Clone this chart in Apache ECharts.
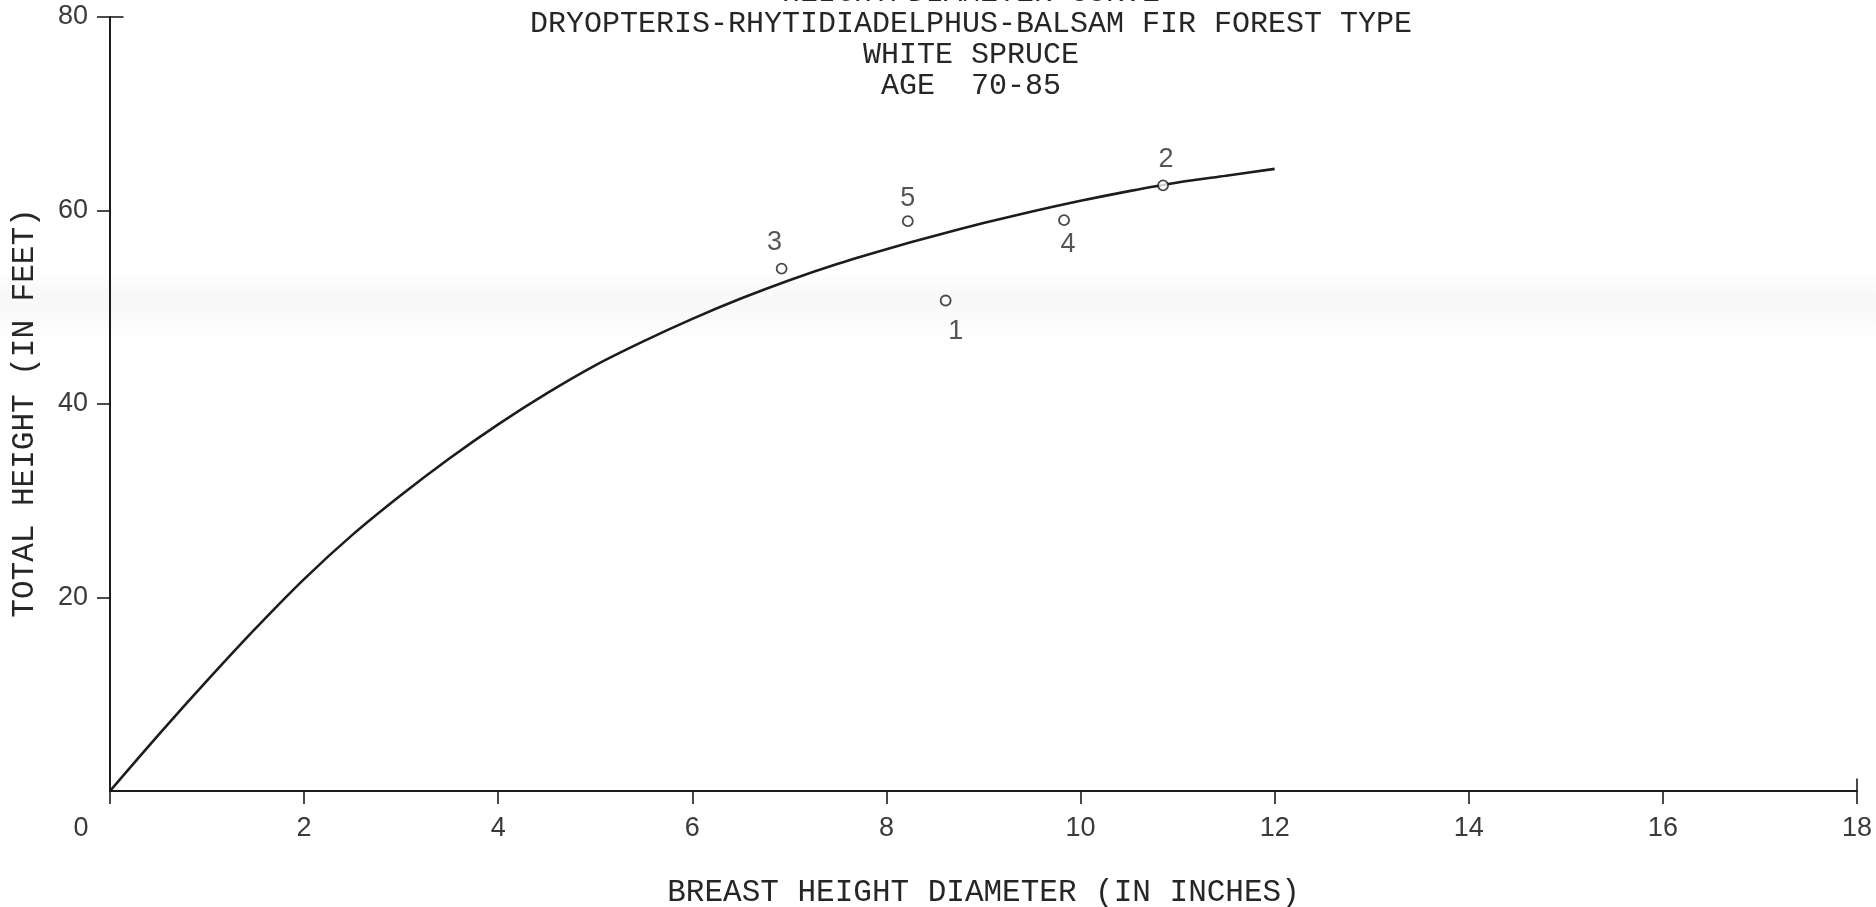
<!DOCTYPE html>
<html>
<head>
<meta charset="utf-8">
<title>Height/Diameter Curve – White Spruce</title>
<script src="https://cdn.jsdelivr.net/npm/echarts@6/dist/echarts.min.js"></script>
<style>
  html, body { margin: 0; padding: 0; background: #ffffff; }
  #chart { width: 1876px; height: 907px; }
</style>
</head>
<body>
<div id="chart"></div>
<script>
// Fitted height/diameter curve (DBH in inches -> total height in feet)
const curveDbh    = [0, 0.5, 1, 1.5, 2, 2.5, 3, 3.5, 4, 4.5, 5, 5.5, 6,
                     6.5, 7, 7.5, 8, 8.5, 9, 9.5, 10, 10.5, 11, 11.5, 12];
const curveHeight = [0, 5.8, 11.4, 16.8, 21.9, 26.5, 30.6, 34.4, 37.9, 41.1, 44.0, 46.5, 48.8,
                     50.9, 52.8, 54.5, 56.0, 57.4, 58.7, 59.9, 61.0, 62.0, 62.9, 63.6, 64.3];

// Sample trees
const treeIds    = ['1', '2', '3', '4', '5'];
const treeDbh    = [8.61, 10.85, 6.92, 9.83, 8.22];
const treeHeight = [50.7, 62.6, 54.0, 59.0, 58.9];

// Axis ticks
const xTicks = [0, 2, 4, 6, 8, 10, 12, 14, 16, 18];
const yTicks = [0, 20, 40, 60, 80];

const titleLines = [
  'HEIGHT/DIAMETER CURVE',
  'DRYOPTERIS-RHYTIDIADELPHUS-BALSAM FIR FOREST TYPE',
  'WHITE SPRUCE',
  'AGE  70-85'
];

const ink = '#1c1c1c';
const typeFont = '"Liberation Mono", "DejaVu Sans Mono", monospace';
const handFont = '"Liberation Sans", "DejaVu Sans", sans-serif';

// where each tree number sits relative to its circle
const numberOffsets = {
  '1': [10, 31],
  '2': [3, -26],
  '3': [-7, -26],
  '4': [4, 24],
  '5': [0, -23]
};

const curveData = curveDbh.map((d, i) => [d, curveHeight[i]]);
const treeData = treeIds.map((id, i) => ({
  value: [treeDbh[i], treeHeight[i]],
  name: id,
  label: { offset: numberOffsets[id] }
}));

const chart = echarts.init(document.getElementById('chart'), null, { renderer: 'canvas' });

chart.setOption({
  backgroundColor: '#ffffff',
  animation: false,
  title: {
    text: titleLines.join('\n'),
    left: 966,
    top: -27,
    textAlign: 'center',
    textStyle: {
      fontFamily: typeFont,
      fontSize: 30,
      fontWeight: 'normal',
      color: '#262626',
      lineHeight: 31
    }
  },
  graphic: [
    {
      // faint scanner streak across the sheet
      type: 'rect',
      z: -10,
      silent: true,
      shape: { x: 0, y: 270, width: 1876, height: 72 },
      style: {
        fill: {
          type: 'linear', x: 0, y: 0, x2: 0, y2: 1,
          colorStops: [
            { offset: 0, color: 'rgba(0,0,0,0)' },
            { offset: 0.35, color: 'rgba(0,0,0,0.028)' },
            { offset: 0.65, color: 'rgba(0,0,0,0.024)' },
            { offset: 1, color: 'rgba(0,0,0,0)' }
          ]
        }
      }
    }
  ],
  grid: {
    left: 110, right: 19, top: 17, bottom: 116,
    containLabel: false,
    outerBoundsMode: 'none'
  },
  xAxis: {
    type: 'value',
    min: xTicks[0],
    max: xTicks[xTicks.length - 1],
    interval: xTicks[1] - xTicks[0],
    name: 'BREAST HEIGHT DIAMETER (IN INCHES)',
    nameLocation: 'middle',
    nameGap: 86,
    nameTextStyle: { fontFamily: typeFont, fontSize: 31, color: '#262626' },
    axisLine: { show: true, onZero: false, lineStyle: { color: ink, width: 2 } },
    axisTick: { show: true, inside: false, length: 13, lineStyle: { color: ink, width: 1.6 } },
    splitLine: { show: false },
    axisLabel: {
      margin: 24,
      fontFamily: handFont,
      fontSize: 27,
      color: '#3a3a3a',
      formatter: v => (v === 0 ? '{z|0}' : String(v)),
      rich: {
        z: { fontFamily: handFont, fontSize: 27, color: '#3a3a3a', padding: [0, 58, 0, 0] }
      }
    }
  },
  yAxis: {
    type: 'value',
    min: yTicks[0],
    max: yTicks[yTicks.length - 1],
    interval: yTicks[1] - yTicks[0],
    name: 'TOTAL HEIGHT (IN FEET)',
    nameLocation: 'middle',
    nameGap: 70,
    nameRotate: 90,
    nameTextStyle: { fontFamily: typeFont, fontSize: 31, color: '#262626', padding: [0, 18, 0, 0] },
    axisLine: { show: true, onZero: false, lineStyle: { color: ink, width: 2 } },
    axisTick: { show: true, inside: false, length: 13, lineStyle: { color: ink, width: 1.6 } },
    splitLine: { show: false },
    axisLabel: {
      margin: 22,
      showMinLabel: false,
      fontFamily: handFont,
      fontSize: 27,
      color: '#3a3a3a'
    }
  },
  series: [
    {
      name: 'Height/diameter curve',
      type: 'line',
      data: curveData,
      smooth: 0.3,
      symbol: 'none',
      lineStyle: { color: ink, width: 2.6 },
      clip: false,
      z: 3,
      // crossing ticks at the ends of both axes
      markLine: {
        silent: true,
        symbol: 'none',
        label: { show: false },
        lineStyle: { color: ink, width: 1.6, type: 'solid' },
        data: [
          [{ coord: [0, 80] }, { coord: [0.14, 80] }],
          [{ coord: [18, 0] }, { coord: [18, 1.3] }]
        ]
      }
    },
    {
      name: 'Sample trees',
      type: 'scatter',
      data: treeData,
      symbol: 'circle',
      symbolSize: 10,
      itemStyle: { color: '#ffffff', borderColor: ink, borderWidth: 1.8 },
      z: 4,
      label: {
        show: true,
        position: 'inside',
        formatter: p => p.name,
        fontFamily: handFont,
        fontSize: 27,
        color: '#2a2a2a'
      }
    }
  ]
});
</script>
</body>
</html>
